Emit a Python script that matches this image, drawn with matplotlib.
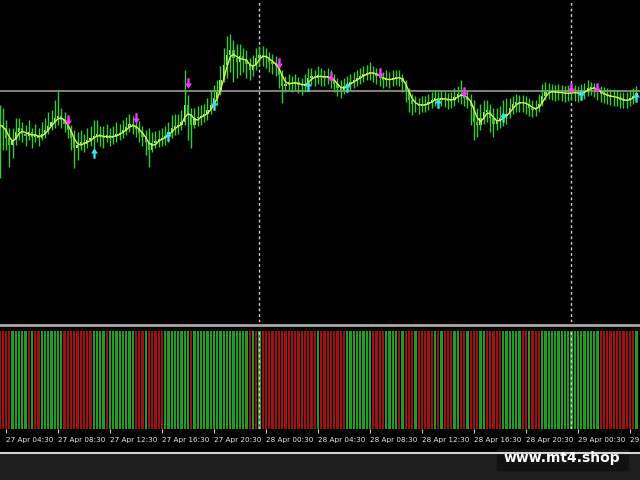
import numpy as np
import pandas as pd
import matplotlib
matplotlib.use("Agg")
import matplotlib.pyplot as plt
from matplotlib.path import Path
from matplotlib.patches import Rectangle
from matplotlib.lines import Line2D

# 15 min bars from 27 Apr 04:00, prices in points
close = [205, 202, 192, 185, 190, 198, 202, 196, 194, 198,
         193, 195, 192, 196, 200, 204, 208, 212, 214, 210,
         206, 200, 192, 182, 185, 188, 186, 190, 192, 194,
         196, 193, 192, 195, 192, 194, 196, 197, 200, 203,
         206, 204, 201, 197, 193, 188, 180, 187, 189, 191,
         192, 194, 198, 202, 204, 205, 208, 225, 215, 205,
         212, 213, 214, 216, 220, 225, 232, 238, 250, 265,
         275, 280, 272, 268, 274, 270, 266, 260, 265, 272,
         275, 274, 272, 268, 266, 264, 255, 244, 246, 248,
         246, 248, 245, 244, 246, 252, 254, 252, 255, 253,
         252, 254, 250, 246, 242, 240, 244, 246, 248, 250,
         252, 254, 256, 257, 258, 256, 254, 252, 250, 251,
         250, 252, 253, 252, 248, 238, 230, 226, 226, 224,
         225, 226, 228, 230, 232, 230, 232, 231, 229, 230,
         233, 236, 235, 232, 230, 224, 208, 205, 212, 218,
         220, 212, 206, 210, 212, 214, 216, 222, 226, 228,
         227, 227, 226, 222, 220, 222, 226, 234, 238, 239,
         238, 237, 238, 237, 236, 237, 238, 237, 236, 238,
         239, 242, 243, 241, 238, 236, 235, 234, 233, 233,
         232, 230, 229, 230, 232, 234, 237]
high = [225, 222, 210, 202, 202, 212, 212, 208, 205, 210,
        202, 206, 202, 208, 212, 218, 220, 230, 240, 222,
        218, 212, 205, 200, 198, 200, 196, 202, 204, 210,
        210, 204, 204, 206, 202, 204, 208, 206, 210, 213,
        216, 214, 211, 209, 204, 200, 202, 198, 199, 200,
        202, 204, 208, 215, 216, 216, 220, 260, 235, 222,
        222, 224, 225, 226, 232, 240, 245, 250, 264, 282,
        294, 296, 290, 286, 286, 282, 280, 272, 275, 282,
        284, 284, 282, 278, 276, 274, 270, 260, 254, 256,
        254, 256, 253, 252, 256, 262, 262, 260, 264, 262,
        260, 262, 260, 256, 252, 250, 252, 254, 256, 258,
        260, 262, 264, 265, 268, 264, 262, 260, 258, 260,
        258, 260, 260, 260, 256, 250, 242, 236, 234, 232,
        234, 234, 236, 238, 240, 238, 240, 239, 237, 238,
        242, 244, 250, 242, 240, 236, 230, 222, 226, 230,
        230, 226, 222, 222, 224, 230, 232, 232, 234, 236,
        235, 235, 234, 232, 230, 230, 236, 246, 248, 247,
        246, 245, 246, 245, 244, 245, 246, 245, 244, 246,
        247, 250, 248, 247, 246, 244, 243, 242, 241, 241,
        240, 238, 238, 238, 240, 242, 244]
low = [152, 180, 180, 163, 172, 185, 190, 188, 184, 190,
       182, 188, 184, 190, 192, 196, 200, 202, 205, 202,
       198, 192, 180, 162, 170, 180, 178, 182, 184, 180,
       188, 184, 182, 188, 184, 186, 188, 190, 192, 195,
       198, 196, 193, 188, 184, 175, 163, 178, 182, 183,
       184, 185, 188, 192, 195, 196, 200, 205, 190, 182,
       202, 204, 205, 208, 210, 216, 220, 225, 235, 248,
       252, 258, 248, 252, 255, 258, 252, 250, 254, 260,
       264, 264, 262, 258, 256, 254, 242, 227, 238, 240,
       238, 240, 237, 235, 238, 242, 245, 244, 246, 244,
       244, 246, 242, 238, 234, 232, 236, 238, 240, 242,
       244, 246, 248, 250, 250, 248, 246, 244, 242, 244,
       242, 244, 245, 244, 238, 228, 218, 215, 218, 216,
       218, 218, 220, 222, 224, 222, 224, 223, 221, 222,
       224, 228, 226, 224, 222, 205, 190, 193, 200, 206,
       208, 198, 193, 200, 202, 204, 206, 212, 216, 218,
       218, 218, 216, 214, 213, 214, 218, 224, 230, 231,
       230, 229, 230, 229, 228, 229, 230, 229, 228, 230,
       231, 234, 235, 233, 230, 228, 227, 226, 225, 224,
       224, 222, 222, 222, 224, 226, 230]

# signal arrows (bar index, price)
sell_idx = [21, 42, 58, 86, 102, 117, 143, 176, 184]
sell_px = [210, 212, 247, 267, 253, 257, 238, 242, 242]
buy_idx = [29, 52, 66, 95, 107, 135, 155, 179, 196]
buy_px = [177, 194, 225, 244, 243, 227, 213, 235, 233]

level_px = 239

# histogram direction per bar: g = up, r = down
hist = ("rrrrgggggr" "grrggggggg" "rrrrrrrrrg" "gggrgggggg" "ggrrrgrrrr"
        "rggggggggr" "gggggggggg" "gggggggrgr" "grrrrrrrrr" "rrrrrrrrgr"
        "rrrrrrrggg" "gggggrrrrg" "gggrgrrrgr" "rrrrgrgrrr" "ggrrgrrrgg"
        "rrrrrggggg" "grrgrrrggg" "gggggggggg" "gggggrrrrr" "rrrrrrg")

tick_bars = [2, 18, 34, 50, 66, 82, 98, 114, 130, 146, 162, 178, 194]
tick_labels = ["27 Apr 04:30", "27 Apr 08:30", "27 Apr 12:30", "27 Apr 16:30",
               "27 Apr 20:30", "28 Apr 00:30", "28 Apr 04:30", "28 Apr 08:30",
               "28 Apr 12:30", "28 Apr 16:30", "28 Apr 20:30", "29 Apr 00:30",
               "29 Apr 04:30"]
day_breaks = [80, 176]

close = np.array(close, float)
high = np.array(high, float)
low = np.array(low, float)
n = len(close)
idx = np.arange(n)
opn = np.r_[close[0], close[:-1]]
ma = pd.Series(close).rolling(3, min_periods=1).mean()

# arrow markers
dn = Path([(-0.22, 1), (0.22, 1), (0.22, 0), (0.65, 0), (0, -1), (-0.65, 0), (-0.22, 0), (-0.22, 1)],
          [1, 2, 2, 2, 2, 2, 2, 79])
up = Path([(x, -y) for x, y in dn.vertices], dn.codes)

W, H = 640, 480
fig = plt.figure(figsize=(6.4, 4.8), dpi=100, facecolor="black")
xl = (0.15, 197.1)

ax = fig.add_axes([0, 1 - 322 / H, 1, 322 / H])
ax.set_facecolor("black")
ax.set_xlim(*xl)
ax.set_ylim(8, 330)
ax.axis("off")
ax.axhline(level_px, color="#8c8c8c", lw=1.3)
for d in day_breaks:
    ax.axvline(d, color="#d0d0d0", lw=1, ls=(0, (2, 2)))
ax.vlines(idx, low, high, colors="#2fd02f", lw=1)
upc = close >= opn
ax.bar(idx[upc], (close - opn)[upc], bottom=opn[upc], width=0.7, color="#b4f27c", lw=0)
ax.bar(idx[~upc], (close - opn)[~upc], bottom=opn[~upc], width=0.7, color="#3cc43c", lw=0)
ax.plot(idx, ma, color="#e2f050", lw=1.0)
ax.plot(sell_idx, sell_px, ls="none", marker=dn, ms=7.5, color="#ff33ff", mew=0)
ax.plot(buy_idx, buy_px, ls="none", marker=up, ms=7.5, color="#33e6f0", mew=0)

ax2 = fig.add_axes([0, 1 - 429 / H, 1, 98 / H])
ax2.set_facecolor("black")
ax2.set_xlim(*xl)
ax2.set_ylim(0, 1)
cols = ["#209e20" if c == "g" else "#a01212" for c in hist]
ax2.bar(idx, np.ones(n), width=0.7, color=cols, lw=0)
for d in day_breaks:
    ax2.axvline(d, color="#d0d0d0", lw=1, ls=(0, (2, 2)))
for s in ax2.spines.values():
    s.set_visible(False)
ax2.set_yticks([])
ax2.set_xticks(tick_bars)
ax2.set_xticklabels(tick_labels, ha="left", color="#e6e6e6", fontsize=5.2,
                    family=["Liberation Sans Narrow", "DejaVu Sans"])
ax2.tick_params(axis="x", direction="out", length=3, color="#d0d0d0", pad=3, width=0.8)

# panel separator and bottom frame
fig.add_artist(Line2D([0, 1], [1 - 324.5 / H] * 2, color="#a8a8a8", lw=2))
fig.add_artist(Rectangle((0, 0), 1, 27 / H, color="#1e1e1e", zorder=0))
fig.add_artist(Line2D([0, 1], [1 - 452.5 / H] * 2, color="#d4d4d4", lw=1.5))
fig.add_artist(Rectangle((497 / W, 10 / H), 131 / W, 21 / H, color="#121212"))
fig.text(562 / W, 1 - 458 / H, "www.mt4.shop", color="white", fontsize=10,
         fontweight="bold", ha="center", va="center")

fig.savefig("out.png", dpi=100, facecolor="black")
